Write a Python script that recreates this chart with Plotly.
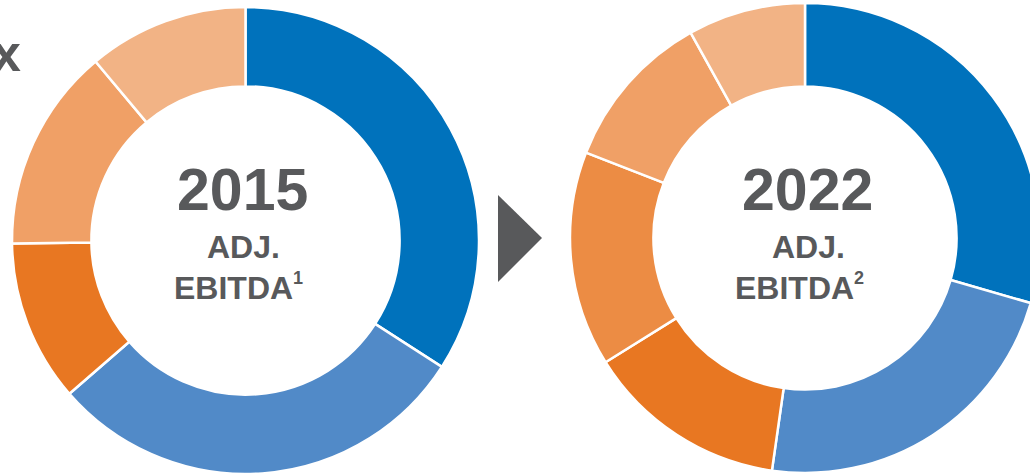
import plotly.graph_objects as go

# ---- data (shares, %) ----
segments_2015 = ["Segment A", "Segment B", "Segment C", "Segment E", "Segment F"]
values_2015 = [34.1, 29.5, 11.2, 14.1, 11.1]

segments_2022 = ["Segment A", "Segment B", "Segment C", "Segment D", "Segment E", "Segment F"]
values_2022 = [29.5, 22.8, 13.9, 14.8, 11.0, 8.1]

seg_colors = {
    "Segment A": "#0072BC",
    "Segment B": "#518AC8",
    "Segment C": "#E87722",
    "Segment D": "#EC8C44",
    "Segment E": "#F0A066",
    "Segment F": "#F2B385",
}

W, H = 1042, 475
GREY = "#58595B"
FONT = "Liberation Sans, Arial, sans-serif"


def px(x):
    return x / W


def py(y):
    return 1 - y / H


fig = go.Figure()

fig.add_trace(go.Pie(
    labels=segments_2015, values=values_2015,
    marker=dict(colors=[seg_colors[s] for s in segments_2015],
                line=dict(color="white", width=2.5)),
    hole=0.66, sort=False, direction="clockwise", rotation=0,
    textinfo="none", hoverinfo="label+percent", showlegend=False,
    domain=dict(x=[px(12), px(479)], y=[py(474), py(7)]),
))

fig.add_trace(go.Pie(
    labels=segments_2022, values=values_2022,
    marker=dict(colors=[seg_colors[s] for s in segments_2022],
                line=dict(color="white", width=2.5)),
    hole=0.645, sort=False, direction="clockwise", rotation=0,
    textinfo="none", hoverinfo="label+percent", showlegend=False,
    domain=dict(x=[px(570), px(1040)], y=[py(473), py(3)]),
))

annotations = []
# (year x-centre, ADJ. centre, EBITDA centre, superscript left edge)
for cx, adj_x, eb_x, sup_x, year, sup in [(242, 243, 233, 292, "2015", "1"),
                                          (807, 808, 794, 853, "2022", "2")]:
    annotations.append(dict(x=px(cx), y=py(190), text="<b>%s</b>" % year,
                            showarrow=False, xanchor="center", yanchor="middle",
                            font=dict(family=FONT, size=59, color=GREY)))
    annotations.append(dict(x=px(adj_x), y=py(247), text="<b>ADJ.</b>",
                            showarrow=False, xanchor="center", yanchor="middle",
                            font=dict(family=FONT, size=32, color=GREY)))
    annotations.append(dict(x=px(eb_x), y=py(288), text="<b>EBITDA</b>",
                            showarrow=False, xanchor="center", yanchor="middle",
                            font=dict(family=FONT, size=32, color=GREY)))
    annotations.append(dict(x=px(sup_x), y=py(278), text="<b>%s</b>" % sup,
                            showarrow=False, xanchor="left", yanchor="middle",
                            borderpad=0,
                            font=dict(family=FONT, size=18, color=GREY)))

annotations.append(dict(x=px(23), y=py(53), text="<b>x</b>", showarrow=False,
                        xanchor="right", yanchor="middle",
                        font=dict(family=FONT, size=52, color=GREY)))

shapes = [dict(type="path",
               path="M %f %f L %f %f L %f %f Z" % (px(498), py(195), px(498), py(282), px(542), py(238)),
               xref="paper", yref="paper", fillcolor=GREY, line=dict(width=0))]

fig.update_layout(
    width=W, height=H,
    margin=dict(l=0, r=0, t=0, b=0),
    paper_bgcolor="white", plot_bgcolor="white",
    annotations=annotations, shapes=shapes,
)

fig.write_html("out.html", post_script=(
    "document.documentElement.style.overflow='hidden';"
    "document.body.style.overflow='hidden';"
    "document.body.style.margin='0';"
))
